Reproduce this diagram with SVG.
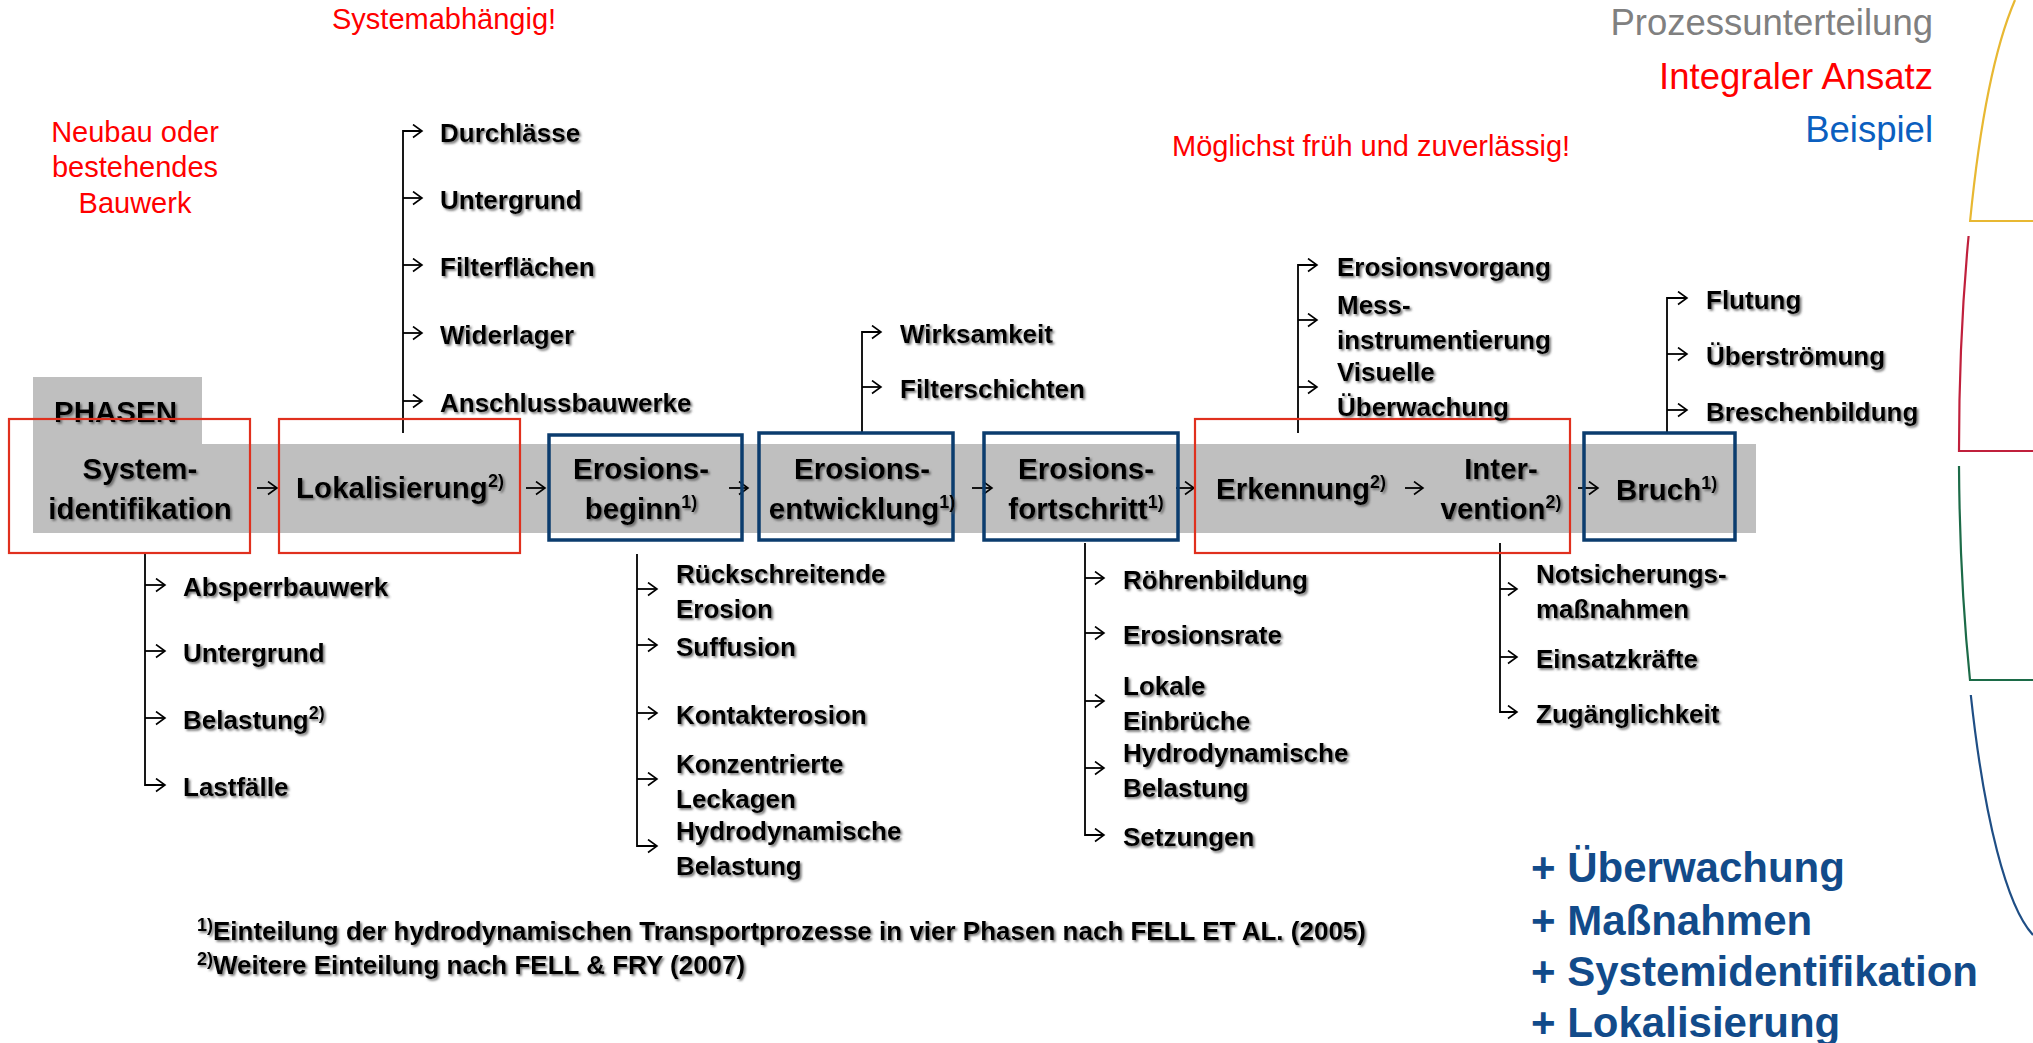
<svg xmlns="http://www.w3.org/2000/svg" width="2033" height="1043" viewBox="0 0 2033 1043">
<defs>
<filter id="sh" x="-5%" y="-20%" width="115%" height="160%"><feDropShadow dx="1.8" dy="1.8" stdDeviation="0.8" flood-color="#555" flood-opacity="0.8"/></filter>
<marker id="ah" markerUnits="userSpaceOnUse" markerWidth="14" markerHeight="16" refX="10" refY="7.5" orient="auto"><path d="M1,1 L10,7.5 L1,14" fill="none" stroke="#000" stroke-width="1.6"/></marker>
</defs>
<style>
.lbl{font-family:"Liberation Sans",Arial,sans-serif;font-weight:bold;font-size:29.5px;fill:#000}
.it{font-family:"Liberation Sans",Arial,sans-serif;font-weight:bold;font-size:26px;fill:#000}
.mid{text-anchor:middle}
.note{font-family:"Liberation Sans",Arial,sans-serif;font-size:29px;fill:#FF0000}
.leg{font-family:"Liberation Sans",Arial,sans-serif;font-size:36.5px;text-anchor:end}
.plus{font-family:"Liberation Sans",Arial,sans-serif;font-weight:bold;font-size:42px;fill:#124B8A}
.sup{font-size:18px}
.arr{stroke:#000;stroke-width:1.8;fill:none;marker-end:url(#ah)}
.rbox{fill:none;stroke:#E0301E;stroke-width:2.2}
.bbox{fill:none;stroke:#0B3C6E;stroke-width:3.5}
.arc{fill:none;stroke-width:2.2}
</style>
<rect width="2033" height="1043" fill="#fff"/>

<g id="band"><path d="M33 377 H202 V444 H1756 V533 H33 Z" fill="#BFBFBF"/>
<text class="lbl" x="54" y="422" filter="url(#sh)" fill="#1a1a1a">PHASEN</text></g>

<g id="notes">
<text class="note" x="332" y="29">Systemabhängig!</text>
<text class="note mid" x="135" y="142">Neubau oder</text>
<text class="note mid" x="135" y="177">bestehendes</text>
<text class="note mid" x="135" y="213">Bauwerk</text>
<text class="note" x="1172" y="156">Möglichst früh und zuverlässig!</text>
</g>
<g id="legend">
<text class="leg" x="1933" y="35" fill="#808080">Prozessunterteilung</text>
<text class="leg" x="1933" y="89" fill="#FF0000">Integraler Ansatz</text>
<text class="leg" x="1933" y="142" fill="#0B5FBF">Beispiel</text>
</g>
<g id="arcs">
<path class="arc" stroke="#E8B832" d="M2015 0 A93 485 0 0 0 1970.1 221 L2033 221"/>
<path class="arc" stroke="#C0203C" d="M1968.6 236 A93 485 0 0 0 1959 451 L2033 451"/>
<path class="arc" stroke="#1C6B48" d="M1959 466 A93 485 0 0 0 1970 680 L2033 680"/>
<path class="arc" stroke="#1F4E85" d="M1970.8 695 A93 500 0 0 0 2033 935"/>
</g>

<g id="connectors">
<path class="arr" d="M257 488 H277"/>
<path class="arr" d="M526 488 H545"/>
<path class="arr" d="M729 488 H748"/>
<path class="arr" d="M972 488 H992"/>
<path class="arr" d="M1176 488 H1194"/>
<path class="arr" d="M1405 488 H1423"/>
<path class="arr" d="M1578 488 H1598"/>
<path class="arr" d="M403 433 V131 H422"/>
<path class="arr" d="M403 198 H422"/>
<path class="arr" d="M403 265 H422"/>
<path class="arr" d="M403 333 H422"/>
<path class="arr" d="M403 401 H422"/>
<path class="arr" d="M145 553 V785 H165"/>
<path class="arr" d="M145 585 H165"/>
<path class="arr" d="M145 651 H165"/>
<path class="arr" d="M145 718 H165"/>
<path class="arr" d="M637 554 V846 H657"/>
<path class="arr" d="M637 589 H657"/>
<path class="arr" d="M637 645 H657"/>
<path class="arr" d="M637 713 H657"/>
<path class="arr" d="M637 779 H657"/>
<path class="arr" d="M862 433 V332 H881"/>
<path class="arr" d="M862 387 H881"/>
<path class="arr" d="M1085 543 V835 H1104"/>
<path class="arr" d="M1085 578 H1104"/>
<path class="arr" d="M1085 633 H1104"/>
<path class="arr" d="M1085 701 H1104"/>
<path class="arr" d="M1085 768 H1104"/>
<path class="arr" d="M1298 433 V265 H1317"/>
<path class="arr" d="M1298 320 H1317"/>
<path class="arr" d="M1298 387 H1317"/>
<path class="arr" d="M1500 543 V712 H1517"/>
<path class="arr" d="M1500 589 H1517"/>
<path class="arr" d="M1500 657 H1517"/>
<path class="arr" d="M1667 433 V298 H1687"/>
<path class="arr" d="M1667 354 H1687"/>
<path class="arr" d="M1667 410 H1687"/>
</g>

<g id="n-systemidentifikation"><rect class="rbox" x="9" y="419" width="241" height="134"/>
<text class="lbl mid" filter="url(#sh)"><tspan x="140" y="479">System-</tspan><tspan x="140" y="519">identifikation</tspan></text></g>
<g id="n-lokalisierung"><rect class="rbox" x="279" y="419" width="241" height="134"/>
<text class="lbl mid" x="400" y="498" filter="url(#sh)">Lokalisierung<tspan class="sup" dy="-11">2)</tspan></text></g>
<g id="n-erosionsbeginn"><rect class="bbox" x="549" y="435" width="193" height="105"/>
<text class="lbl mid" filter="url(#sh)"><tspan x="641" y="479">Erosions-</tspan><tspan x="641" y="519">beginn<tspan class="sup" dy="-11">1)</tspan></tspan></text></g>
<g id="n-erosionsentwicklung"><rect class="bbox" x="759" y="433" width="194" height="107"/>
<text class="lbl mid" filter="url(#sh)"><tspan x="862" y="479">Erosions-</tspan><tspan x="862" y="519">entwicklung<tspan class="sup" dy="-11">1)</tspan></tspan></text></g>
<g id="n-erosionsfortschritt"><rect class="bbox" x="984" y="433" width="194" height="107"/>
<text class="lbl mid" filter="url(#sh)"><tspan x="1086" y="479">Erosions-</tspan><tspan x="1086" y="519">fortschritt<tspan class="sup" dy="-11">1)</tspan></tspan></text></g>
<g id="n-erkennung-intervention"><rect class="rbox" x="1195" y="419" width="375" height="134"/>
<text class="lbl" x="1216" y="499" filter="url(#sh)">Erkennung<tspan class="sup" dy="-11">2)</tspan></text>
<text class="lbl mid" filter="url(#sh)"><tspan x="1501" y="479">Inter-</tspan><tspan x="1501" y="519">vention<tspan class="sup" dy="-11">2)</tspan></tspan></text></g>
<g id="n-bruch"><rect class="bbox" x="1584" y="433" width="151" height="107"/>
<text class="lbl" x="1616" y="500" filter="url(#sh)">Bruch<tspan class="sup" dy="-11">1)</tspan></text></g>

<g id="items-lokalisierung" filter="url(#sh)">
<text class="it" x="440" y="142">Durchlässe</text>
<text class="it" x="440" y="209">Untergrund</text>
<text class="it" x="440" y="276">Filterflächen</text>
<text class="it" x="440" y="344">Widerlager</text>
<text class="it" x="440" y="412">Anschlussbauwerke</text>
</g>
<g id="items-systemidentifikation" filter="url(#sh)">
<text class="it" x="183" y="596">Absperrbauwerk</text>
<text class="it" x="183" y="662">Untergrund</text>
<text class="it" x="183" y="729">Belastung<tspan class="sup" dy="-10">2)</tspan></text>
<text class="it" x="183" y="796">Lastfälle</text>
</g>
<g id="items-erosionsbeginn" filter="url(#sh)">
<text class="it"><tspan x="676" y="583">Rückschreitende</tspan><tspan x="676" y="618">Erosion</tspan></text>
<text class="it" x="676" y="656">Suffusion</text>
<text class="it" x="676" y="724">Kontakterosion</text>
<text class="it"><tspan x="676" y="773">Konzentrierte</tspan><tspan x="676" y="808">Leckagen</tspan></text>
<text class="it"><tspan x="676" y="840">Hydrodynamische</tspan><tspan x="676" y="875">Belastung</tspan></text>
</g>
<g id="items-erosionsentwicklung" filter="url(#sh)">
<text class="it" x="900" y="343">Wirksamkeit</text>
<text class="it" x="900" y="398">Filterschichten</text>
</g>
<g id="items-erosionsfortschritt" filter="url(#sh)">
<text class="it" x="1123" y="589">Röhrenbildung</text>
<text class="it" x="1123" y="644">Erosionsrate</text>
<text class="it"><tspan x="1123" y="695">Lokale</tspan><tspan x="1123" y="730">Einbrüche</tspan></text>
<text class="it"><tspan x="1123" y="762">Hydrodynamische</tspan><tspan x="1123" y="797">Belastung</tspan></text>
<text class="it" x="1123" y="846">Setzungen</text>
</g>
<g id="items-erkennung" filter="url(#sh)">
<text class="it" x="1337" y="276">Erosionsvorgang</text>
<text class="it"><tspan x="1337" y="314">Mess-</tspan><tspan x="1337" y="349">instrumentierung</tspan></text>
<text class="it"><tspan x="1337" y="381">Visuelle</tspan><tspan x="1337" y="416">Überwachung</tspan></text>
</g>
<g id="items-intervention" filter="url(#sh)">
<text class="it"><tspan x="1536" y="583">Notsicherungs-</tspan><tspan x="1536" y="618">maßnahmen</tspan></text>
<text class="it" x="1536" y="668">Einsatzkräfte</text>
<text class="it" x="1536" y="723">Zugänglichkeit</text>
</g>
<g id="items-bruch" filter="url(#sh)">
<text class="it" x="1706" y="309">Flutung</text>
<text class="it" x="1706" y="365">Überströmung</text>
<text class="it" x="1706" y="421">Breschenbildung</text>
</g>

<g id="footnotes" filter="url(#sh)">
<text class="it" x="197" y="940"><tspan class="sup" dy="-9">1)</tspan><tspan dy="9">Einteilung der hydrodynamischen Transportprozesse in vier Phasen nach FELL ET AL. (2005)</tspan></text>
<text class="it" x="197" y="974"><tspan class="sup" dy="-9">2)</tspan><tspan dy="9">Weitere Einteilung nach FELL &amp; FRY (2007)</tspan></text>
</g>

<g id="additions">
<text class="plus" x="1531" y="882">+ Überwachung</text>
<text class="plus" x="1531" y="935">+ Maßnahmen</text>
<text class="plus" x="1531" y="986">+ Systemidentifikation</text>
<text class="plus" x="1531" y="1037">+ Lokalisierung</text>
</g>
</svg>
